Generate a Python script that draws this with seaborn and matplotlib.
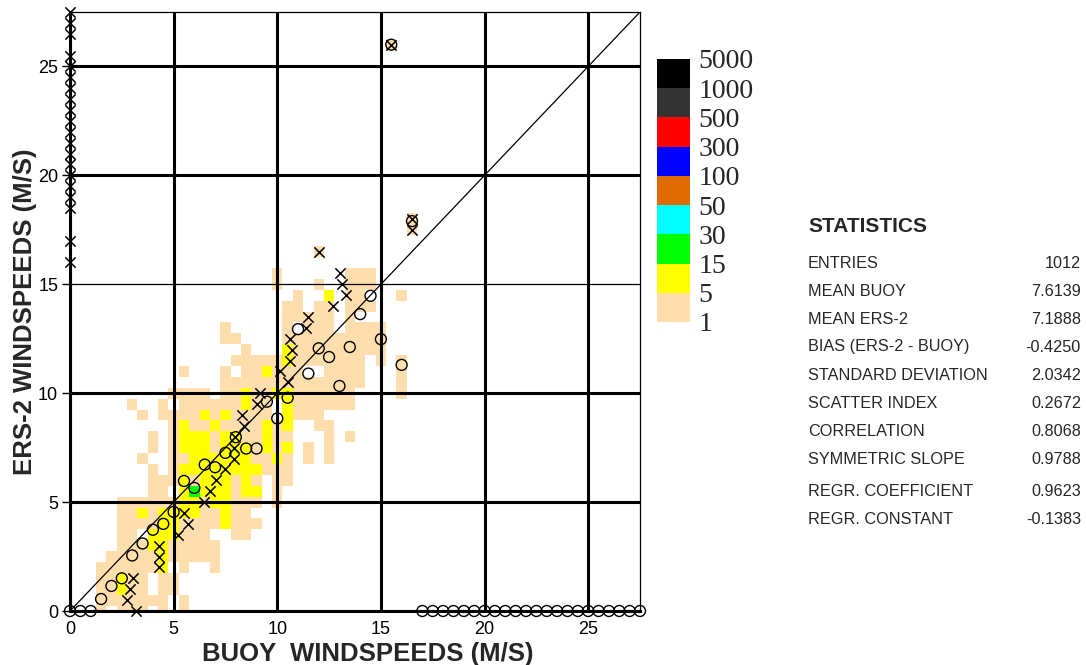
import numpy as np
import pandas as pd
import matplotlib
matplotlib.use("Agg")
import matplotlib.pyplot as plt
import seaborn as sns
from matplotlib.colors import ListedColormap, BoundaryNorm
from matplotlib.cm import ScalarMappable

# ---------------- data ----------------
bin_width = 0.5
cell_row_top = 18.0          # y of the first row below, rows step down by bin_width
# a = 1-4 entries, b = 5-14 entries, c = 15-29 entries ; column i -> x = 0.5*i
cell_rows = [
    "..... ..... ..... ..... ..... ..... ...a.",  # 18.0
    "..... ..... ..... ..... ..... ..... ...a.",  # 17.5
    "..... ..... ..... ..... ..... ..... .....",  # 17.0
    "..... ..... ..... ..... ....a ..... .....",  # 16.5
    "..... ..... ..... ..... ..... ..... .....",  # 16.0
    "..... ..... ..... ..... a.... ..aaa .....",  # 15.5
    "..... ..... ..... ..... a...a ..aaa .....",  # 15.0
    "..... ..... ..... ..... ..a.. b.aa. ..a..",  # 14.5
    "..... ..... ..... ..... .aa.a a.aaa .....",  # 14.0
    "..... ..... ..... ..... .aaaa a.a.. .....",  # 13.5
    "..... ..... ..... a.... .a.aa a.aaa a....",  # 13.0
    "..... ..... ..... aa... .aaaa aaaaa a....",  # 12.5
    "..... ..... ..... ..a.. .baaa aaaaa a....",  # 12.0
    "..... ..... ..... .aaaa abaaa aaaa. a.a..",  # 11.5
    "..... ..... .a... a.aab aaa.. aaaa. ..a..",  # 11.0
    "..... ..... ..... aaaaa aaaaa aaaa. ..a..",  # 10.5
    "..... ..... aaaa. aabaa bbaaa aaa.. ..a..",  # 10.0
    "..... .a..a .aaaa aabaa .baaa aaa.. .....",  # 9.5
    "..... ..a.a aaaba baaaa .baaa ..... .....",  # 9.0
    "..... ..... abaab aaaab ab..a a.... .....",  # 8.5
    "..... ...a. abbba bbaab aa... a.a.. .....",  # 8.0
    "..... ...a. abbba bbbab ab.a. a.... .....",  # 7.5
    "..... ..a.. aabbb bbbaa ba.a. a.... .....",  # 7.0
    "..... ...a. abbbb bbbba aa... ..... .....",  # 6.5
    "..... ...aa ababb baba. aa... ..... .....",  # 6.0
    "..... ...aa .bcbb babb. a.... ..... .....",  # 5.5
    "..... aaaaa abbab baaa. a.... ..... .....",  # 5.0
    "..... aabab bbbaa baa.. ..... ..... .....",  # 4.5
    "..... aaaab baaaa baaa. ..... ..... .....",  # 4.0
    "..... aa.bb baaa. .aa.. ..... ..... .....",  # 3.5
    "..... aaabb aaaaa ..... ..... ..... .....",  # 3.0
    "....a aaaab aaaaa ..... ..... ..... .....",  # 2.5
    "...aa aaaab .a..a ..... ..... ..... .....",  # 2.0
    "...aa baa.a a.... ..... ..... ..... .....",  # 1.5
    "...aa baa.a a.... ..... ..... ..... .....",  # 1.0
    "...aa aaaaa .a... ..... ..... ..... .....",  # 0.5
    "...a. aaa.a .a... ..... ..... ..... .....",  # 0.0
]
level_counts = {"a": 2, "b": 8, "c": 20}
outlier_cells = [(15.5, 26.0, "a")]

# mean ERS-2 speed per buoy bin (x = 0, 0.5, ... 27.5), 0 where the bin is empty
circle_y = [0, 0, 0, 0.55, 1.15, 1.5, 2.55, 3.1, 3.73, 4.0, 4.55, 5.97, 5.65,
            6.72, 6.6, 7.26, 7.98, 7.46, 7.46, 9.61, 8.84, 9.79, 12.94, 10.9,
            12.06, 11.66, 10.33, 12.12, 13.63, 14.47, 12.48, 26.0, 11.3, 17.9,
            0, 0, 0, 0, 0, 0, 0, 0, 0, 0, 0, 0, 0, 0, 0, 0, 0, 0, 0, 0, 0, 0]
# mean buoy speed per ERS-2 bin (y = 0, 0.5, ... 27.5), 0 where the bin is empty
xmark_x = [3.2, 2.75, 2.9, 3.05, 4.3, 4.3, 4.3, 5.2, 5.7, 5.5, 6.45, 6.75, 7.05,
           7.5, 7.9, 7.9, 7.95, 8.4, 8.3, 9.0, 9.15, 10.5, 10.15, 10.6, 10.7,
           10.6, 11.4, 11.5, 12.7, 13.3, 13.1, 13.05, 0, 12.0, 0, 16.5, 16.5,
           0, 0, 0, 0, 0, 0, 0, 0, 0, 0, 0, 0, 0, 0, 0, 15.5, 0, 0, 0]

count_bounds = [1, 5, 15, 30, 50, 100, 300, 500, 1000, 5000]
level_colors = ["#FFDEAD", "#FFFF00", "#00FF00", "#00FFFF", "#E06C00",
                "#0000FF", "#FF0000", "#333333", "#000000"]

axis_ticks = [0, 5, 10, 15, 20, 25]
axis_max = 27.5

stat_title = "STATISTICS"
stat_labels = ["ENTRIES", "MEAN BUOY", "MEAN ERS-2", "BIAS (ERS-2 - BUOY)",
               "STANDARD DEVIATION", "SCATTER INDEX", "CORRELATION",
               "SYMMETRIC SLOPE", "REGR. COEFFICIENT", "REGR. CONSTANT"]
stat_values = ["1012", "7.6139", "7.1888", "-0.4250", "2.0342", "0.2672",
               "0.8068", "0.9788", "0.9623", "-0.1383"]

# ---------------- build frames ----------------
xs, ys, counts = [], [], []
for r, row in enumerate(cell_rows):
    row = row.replace(" ", "")
    yv = cell_row_top - r * bin_width
    for i, ch in enumerate(row):
        if ch in level_counts:
            xs.append(i * bin_width); ys.append(yv); counts.append(level_counts[ch])
for (cx, cy, ch) in outlier_cells:
    xs.append(cx); ys.append(cy); counts.append(level_counts[ch])
cells = pd.DataFrame({"buoy": xs, "ers": ys, "count": counts})
cells["level"] = np.digitize(cells["count"], count_bounds)

circles = pd.DataFrame({"buoy": np.arange(len(circle_y)) * bin_width, "ers": circle_y})
xmarks = pd.DataFrame({"buoy": xmark_x, "ers": np.arange(len(xmark_x)) * bin_width})

# ---------------- figure ----------------
sns.set_style("white")
plt.rcParams["font.family"] = ["Liberation Sans", "DejaVu Sans"]
plt.rcParams["axes.axisbelow"] = "line"

W, H = 1086, 665
fig = plt.figure(figsize=(W / 100, H / 100), dpi=100)
ax = fig.add_axes([70 / W, (H - 611) / H, 570 / W, 599 / H])

cmap = ListedColormap(level_colors)
edge_lo = -bin_width / 2
edge_hi = axis_max + bin_width / 2
sns.histplot(data=cells, x="buoy", y="ers", weights="level",
             binwidth=bin_width, binrange=((edge_lo, edge_hi), (edge_lo, edge_hi)),
             cmap=cmap, vmin=0.5, vmax=len(level_colors) + 0.5, ax=ax)

ax.set_xlim(0, axis_max)
ax.set_ylim(0, axis_max)
ax.set_xticks(axis_ticks)
ax.set_yticks(axis_ticks)
ax.grid(True, color="black", linewidth=2.2, zorder=1.5)
ax.get_ygridlines()[3].set_linewidth(0.9)

for side in ["left", "bottom"]:
    ax.spines[side].set_linewidth(2.2)
    ax.spines[side].set_color("black")
for side in ["top", "right"]:
    ax.spines[side].set_linewidth(0.9)
    ax.spines[side].set_color("black")

ax.axline((0, 0), slope=1, color="black", linewidth=0.9, zorder=3)

sns.scatterplot(data=circles, x="buoy", y="ers", marker="o", s=62,
                color="black", linewidth=1.0, clip_on=False, zorder=6, ax=ax)
coll = ax.collections[-1]
coll.set_facecolor("none"); coll.set_edgecolor("black"); coll.set_linewidth(1.0)

sns.scatterplot(data=xmarks, x="buoy", y="ers", marker="x", s=55,
                color="black", linewidth=1.1, clip_on=False, zorder=6, ax=ax)
coll = ax.collections[-1]
coll.set_facecolor("black"); coll.set_edgecolor("black"); coll.set_linewidth(1.1)

ax.tick_params(axis="y", length=6, width=1, direction="out", pad=2.5,
               labelsize=13, left=True, colors="black")
ax.tick_params(axis="x", length=0, pad=7, labelsize=13, colors="black")

ax.set_xlabel("BUOY  WINDSPEEDS (M/S)", fontsize=18.5, fontweight="bold", labelpad=2)
ax.xaxis.set_label_coords(0.522, -0.052, transform=ax.transAxes)
ax.xaxis.label.set_verticalalignment("top")
ax.set_ylabel("ERS-2 WINDSPEEDS (M/S)", fontsize=18.5, fontweight="bold", labelpad=1)

# ---------------- colour legend ----------------
cax = fig.add_axes([657 / W, (H - 322) / H, 33 / W, 263 / H])
norm = BoundaryNorm(count_bounds, len(level_colors))
sm = ScalarMappable(norm=norm, cmap=cmap)
cb = fig.colorbar(sm, cax=cax, spacing="uniform", ticks=count_bounds)
cb.outline.set_visible(False)
cb.ax.tick_params(length=0, pad=6)
cb.ax.set_yticklabels([str(b) for b in count_bounds],
                      fontfamily="Liberation Serif", fontsize=20)
for lab in cb.ax.get_yticklabels():
    lab.set_verticalalignment("center_baseline")

# ---------------- statistics ----------------
fig.text(808 / W, 1 - 226 / H, stat_title, fontsize=15, fontweight="bold",
         va="center", ha="left")
row_py = [263, 291, 319, 347, 375, 403, 431, 459, 491, 519]
for lab, val, py in zip(stat_labels, stat_values, row_py):
    fig.text(808 / W, 1 - py / H, lab, fontsize=11.7, va="center", ha="left")
    fig.text(1081 / W, 1 - py / H, val, fontsize=11.7, va="center", ha="right")

fig.savefig("out.png", dpi=100)
